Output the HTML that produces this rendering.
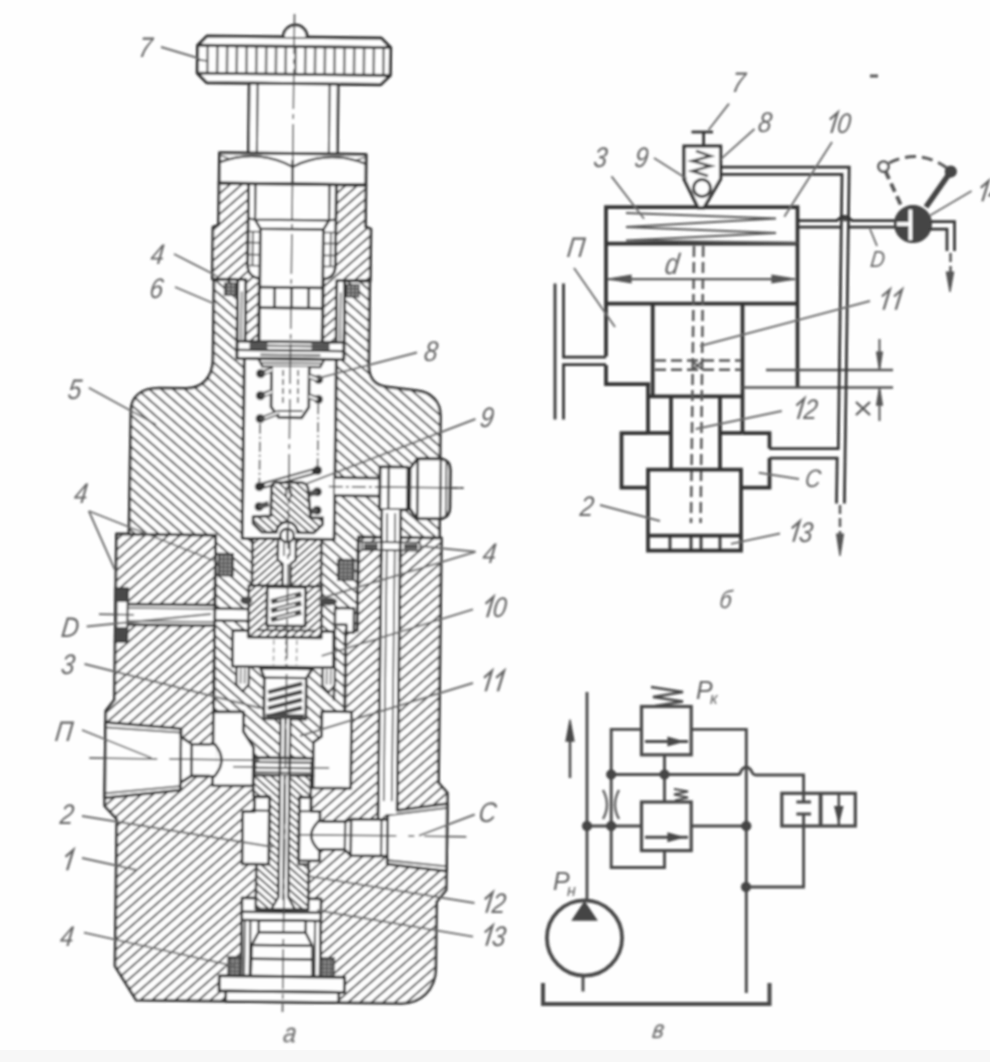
<!DOCTYPE html>
<html><head><meta charset="utf-8"><title>valve</title>
<style>
html,body{margin:0;padding:0;background:#fefefe;}
body{width:990px;height:1062px;overflow:hidden;position:relative;font-family:"Liberation Sans",sans-serif;}
svg{position:absolute;left:0;top:0;display:block}
svg text{font-family:"Liberation Sans",sans-serif;font-style:italic;}
#strip{position:absolute;left:0;top:1050px;width:990px;height:12px;background:#f7f7f7;}
</style></head><body>
<div id="strip"></div>
<svg width="990" height="1062" viewBox="0 0 990 1062">

<defs>
<filter id="bl" x="-2%" y="-2%" width="104%" height="104%"><feGaussianBlur stdDeviation="0.85"/></filter>
<pattern id="hA" width="40" height="7.7" patternUnits="userSpaceOnUse" patternTransform="rotate(-41.9)">
 <line x1="-1" y1="3.85" x2="41" y2="3.85" stroke="#4b4b4b" stroke-width="1.95"/></pattern>
<pattern id="hB" width="40" height="7.85" patternUnits="userSpaceOnUse" patternTransform="rotate(40.7)">
 <line x1="-1" y1="3.9" x2="41" y2="3.9" stroke="#4b4b4b" stroke-width="1.95"/></pattern>
<pattern id="hA2" width="40" height="5.6" patternUnits="userSpaceOnUse" patternTransform="rotate(-42)">
 <line x1="-1" y1="2.8" x2="41" y2="2.8" stroke="#4b4b4b" stroke-width="1.85"/></pattern>
<pattern id="hB2" width="40" height="5.6" patternUnits="userSpaceOnUse" patternTransform="rotate(41)">
 <line x1="-1" y1="2.8" x2="41" y2="2.8" stroke="#4b4b4b" stroke-width="1.85"/></pattern>
<pattern id="hX" width="4" height="4" patternUnits="userSpaceOnUse">
 <rect width="4" height="4" fill="#555"/><circle cx="2" cy="2" r="1.15" fill="#b5b5b5"/></pattern>
</defs>
<g filter="url(#bl)">
<g transform="rotate(0.69 288.3 530)">
<path d="M116.5,536 L116.5,702 L108,713 L108,808 L120.3,821 L120.3,968 L142,1002 L407,1002 C426,1002 441,988 441,967 L441,900 L450.5,888 L450.5,791 L441.5,781 L441.5,536 Z" fill="#fefefe" stroke="none"/>
<path d="M116.5,536 L116.5,702 L108,713 L108,808 L120.3,821 L120.3,968 L142,1002 L407,1002 C426,1002 441,988 441,967 L441,900 L450.5,888 L450.5,791 L441.5,781 L441.5,536 Z" fill="url(#hA)" stroke="#303030" stroke-width="2.75" stroke-linejoin="round"/>
<path d="M211,280 L211,360 C211,378 201,389.6 184,389.6 L158,389.8 C140,389.8 129.5,398 129.5,413 L129,536 L215.8,536 L215.8,713 L245.7,713 L245.7,732 L256.2,748 L256.2,758 L316,758 L316,742 L324.1,736 L324.1,713 L347,713 L347,630 L358.4,630 L358.4,536 L439.5,536 L439,414 C439,400 430,390.5 415.4,389.1 L385,385.6 C374,384.5 366.8,378 366.8,364 L366.8,280 Z" fill="#fefefe" stroke="none"/>
<path d="M211,280 L211,360 C211,378 201,389.6 184,389.6 L158,389.8 C140,389.8 129.5,398 129.5,413 L129,536 L215.8,536 L215.8,713 L245.7,713 L245.7,732 L256.2,748 L256.2,758 L316,758 L316,742 L324.1,736 L324.1,713 L347,713 L347,630 L358.4,630 L358.4,536 L439.5,536 L439,414 C439,400 430,390.5 415.4,389.1 L385,385.6 C374,384.5 366.8,378 366.8,364 L366.8,280 Z" fill="url(#hB)" stroke="#303030" stroke-width="2.75" stroke-linejoin="round"/>
<path d="M234.8,280 L341.8,280 L341.8,359 L234.8,359 Z" fill="#fefefe" stroke="#303030" stroke-width="2.75" stroke-linejoin="round"/>
<path d="M214.8,184 L244.5,184 L244.5,267 Q245.3,277 256.3,279 L256.3,341.7 L242.8,341.7 L242.8,280 L209.3,280 L209.3,228 L214.8,226 Z" fill="#fefefe" stroke="none"/>
<path d="M214.8,184 L244.5,184 L244.5,267 Q245.3,277 256.3,279 L256.3,341.7 L242.8,341.7 L242.8,280 L209.3,280 L209.3,228 L214.8,226 Z" fill="url(#hA)" stroke="#303030" stroke-width="2.75" stroke-linejoin="round"/>
<path d="M361.8,184 L332.1,184 L332.1,267 Q331.3,277 320.3,279 L320.3,341.7 L333.8,341.7 L333.8,280 L367.3,280 L367.3,228 L361.8,226 Z" fill="#fefefe" stroke="none"/>
<path d="M361.8,184 L332.1,184 L332.1,267 Q331.3,277 320.3,279 L320.3,341.7 L333.8,341.7 L333.8,280 L367.3,280 L367.3,228 L361.8,226 Z" fill="url(#hA)" stroke="#303030" stroke-width="2.75" stroke-linejoin="round"/>
<rect x="221.8" y="284" width="12" height="12" fill="url(#hX)" stroke="#303030" stroke-width="1.5"/>
<rect x="342.8" y="284" width="13" height="12" fill="url(#hX)" stroke="#303030" stroke-width="1.5"/>
<line x1="209.3" y1="280" x2="242.8" y2="280" stroke="#303030" stroke-width="2.75" />
<line x1="333.8" y1="280" x2="367.3" y2="280" stroke="#303030" stroke-width="2.75" />
<path d="M201.3,37 L375.3,37 L384.8,46.4 L384.8,74.3 L375.3,83.6 L201.3,83.6 L191.8,74.3 L191.8,46.4 Z" fill="#fefefe" stroke="#303030" stroke-width="3.12" stroke-linejoin="round"/>
<line x1="201.8" y1="47.5" x2="201.8" y2="73.2" stroke="#767676" stroke-width="2.62" />
<line x1="211.6" y1="47.5" x2="211.6" y2="73.2" stroke="#767676" stroke-width="2.62" />
<line x1="221.4" y1="47.5" x2="221.4" y2="73.2" stroke="#767676" stroke-width="2.62" />
<line x1="231.1" y1="47.5" x2="231.1" y2="73.2" stroke="#767676" stroke-width="2.62" />
<line x1="240.9" y1="47.5" x2="240.9" y2="73.2" stroke="#767676" stroke-width="2.62" />
<line x1="250.7" y1="47.5" x2="250.7" y2="73.2" stroke="#767676" stroke-width="2.62" />
<line x1="260.5" y1="47.5" x2="260.5" y2="73.2" stroke="#767676" stroke-width="2.62" />
<line x1="270.3" y1="47.5" x2="270.3" y2="73.2" stroke="#767676" stroke-width="2.62" />
<line x1="280.0" y1="47.5" x2="280.0" y2="73.2" stroke="#767676" stroke-width="2.62" />
<line x1="289.8" y1="47.5" x2="289.8" y2="73.2" stroke="#767676" stroke-width="2.62" />
<line x1="299.6" y1="47.5" x2="299.6" y2="73.2" stroke="#767676" stroke-width="2.62" />
<line x1="309.4" y1="47.5" x2="309.4" y2="73.2" stroke="#767676" stroke-width="2.62" />
<line x1="319.2" y1="47.5" x2="319.2" y2="73.2" stroke="#767676" stroke-width="2.62" />
<line x1="328.9" y1="47.5" x2="328.9" y2="73.2" stroke="#767676" stroke-width="2.62" />
<line x1="338.7" y1="47.5" x2="338.7" y2="73.2" stroke="#767676" stroke-width="2.62" />
<line x1="348.5" y1="47.5" x2="348.5" y2="73.2" stroke="#767676" stroke-width="2.62" />
<line x1="358.3" y1="47.5" x2="358.3" y2="73.2" stroke="#767676" stroke-width="2.62" />
<line x1="368.1" y1="47.5" x2="368.1" y2="73.2" stroke="#767676" stroke-width="2.62" />
<line x1="377.8" y1="47.5" x2="377.8" y2="73.2" stroke="#767676" stroke-width="2.62" />
<line x1="191.8" y1="46.4" x2="384.8" y2="46.4" stroke="#303030" stroke-width="2.88" />
<line x1="191.8" y1="74.3" x2="384.8" y2="74.3" stroke="#303030" stroke-width="2.88" />
<line x1="193.3" y1="61" x2="202.3" y2="62" stroke="#4a4a4a" stroke-width="1.62" />
<path d="M277.3,37 A12,12 0 0 1 301.3,37" fill="#fefefe" stroke="#303030" stroke-width="2.88" />
<path d="M243.8,83.6 L332.8,83.6 L332.8,153.5 L243.8,153.5 Z" fill="#fefefe" stroke="#303030" stroke-width="2.75" stroke-linejoin="round"/>
<line x1="252.3" y1="84" x2="252.3" y2="153.5" stroke="#303030" stroke-width="2.0" />
<line x1="324.3" y1="84" x2="324.3" y2="153.5" stroke="#303030" stroke-width="2.0" />
<path d="M215.0,153.5 L361.6,153.5 L361.6,184 L215.0,184 Z" fill="#fefefe" stroke="#303030" stroke-width="3.0" stroke-linejoin="round"/>
<path d="M215.3,163 Q248.3,150 280.3,163 L288.3,167 L296.3,163 Q328.3,150 361.3,163" fill="none" stroke="#303030" stroke-width="2.25" />
<line x1="288.3" y1="160" x2="288.3" y2="184" stroke="#303030" stroke-width="2.5" />
<path d="M215.3,156 L226.3,160 M361.3,156 L350.3,160" fill="none" stroke="#4a4a4a" stroke-width="1.5" />
<path d="M244.5,184 L332.1,184 L332.1,267 Q331.3,277 320.3,279 L320.3,341.7 L256.3,341.7 L256.3,279 Q245.3,277 244.5,267 Z" fill="#fefefe" stroke="#303030" stroke-width="0.0" stroke-linejoin="round"/>
<line x1="244.5" y1="184" x2="244.5" y2="267" stroke="#303030" stroke-width="2.75" />
<line x1="332.1" y1="184" x2="332.1" y2="267" stroke="#303030" stroke-width="2.75" />
<line x1="215.0" y1="184" x2="361.6" y2="184" stroke="#303030" stroke-width="3.25" />
<path d="M244.5,267 Q245.3,277 256.3,279 M332.1,267 Q331.3,277 320.3,279" fill="none" stroke="#303030" stroke-width="2.75" />
<line x1="251.3" y1="184" x2="251.3" y2="220" stroke="#303030" stroke-width="2.25" />
<line x1="325.3" y1="184" x2="325.3" y2="220" stroke="#303030" stroke-width="2.25" />
<path d="M245.3,219 L251.3,220 L325.3,220 L331.3,219" fill="none" stroke="#303030" stroke-width="2.25" />
<path d="M251.3,220 L256.8,229 L319.8,229 L325.3,220" fill="none" stroke="#303030" stroke-width="2.5" />
<line x1="256.8" y1="229" x2="256.8" y2="341.7" stroke="#303030" stroke-width="2.75" />
<line x1="319.8" y1="229" x2="319.8" y2="341.7" stroke="#303030" stroke-width="2.75" />
<line x1="249.3" y1="232" x2="249.3" y2="266" stroke="#4a4a4a" stroke-width="1.75" />
<line x1="256.3" y1="232" x2="245.3" y2="232" stroke="#4a4a4a" stroke-width="1.5" />
<line x1="256.3" y1="243" x2="245.3" y2="243" stroke="#4a4a4a" stroke-width="1.5" />
<line x1="256.3" y1="255" x2="245.3" y2="255" stroke="#4a4a4a" stroke-width="1.5" />
<line x1="256.3" y1="266" x2="245.3" y2="266" stroke="#4a4a4a" stroke-width="1.5" />
<line x1="327.3" y1="232" x2="327.3" y2="266" stroke="#4a4a4a" stroke-width="1.75" />
<line x1="320.3" y1="232" x2="331.3" y2="232" stroke="#4a4a4a" stroke-width="1.5" />
<line x1="320.3" y1="243" x2="331.3" y2="243" stroke="#4a4a4a" stroke-width="1.5" />
<line x1="320.3" y1="255" x2="331.3" y2="255" stroke="#4a4a4a" stroke-width="1.5" />
<line x1="320.3" y1="266" x2="331.3" y2="266" stroke="#4a4a4a" stroke-width="1.5" />
<line x1="256.8" y1="287.6" x2="319.8" y2="287.6" stroke="#303030" stroke-width="2.75" />
<line x1="256.8" y1="308" x2="319.8" y2="308" stroke="#303030" stroke-width="2.75" />
<line x1="271.8" y1="287.6" x2="271.8" y2="308" stroke="#303030" stroke-width="2.5" />
<line x1="288.8" y1="287.6" x2="288.8" y2="308" stroke="#303030" stroke-width="2.5" />
<line x1="305.8" y1="287.6" x2="305.8" y2="308" stroke="#303030" stroke-width="2.5" />
<line x1="242.8" y1="280" x2="242.8" y2="341.7" stroke="#303030" stroke-width="2.25" />
<line x1="234.8" y1="280" x2="234.8" y2="359" stroke="#303030" stroke-width="2.5" />
<line x1="238.8" y1="292" x2="238.8" y2="340" stroke="#4a4a4a" stroke-width="1.5" />
<line x1="333.8" y1="280" x2="333.8" y2="341.7" stroke="#303030" stroke-width="2.25" />
<line x1="341.8" y1="280" x2="341.8" y2="359" stroke="#303030" stroke-width="2.5" />
<line x1="337.8" y1="292" x2="337.8" y2="340" stroke="#4a4a4a" stroke-width="1.5" />
<line x1="234.8" y1="341.7" x2="341.8" y2="341.7" stroke="#303030" stroke-width="2.75" />
<line x1="234.8" y1="350.6" x2="341.8" y2="350.6" stroke="#303030" stroke-width="2.25" />
<line x1="242.3" y1="359" x2="334.3" y2="359" stroke="#303030" stroke-width="2.75" />
<rect x="247.3" y="343" width="18" height="6.5" fill="#555"/>
<rect x="309.3" y="343" width="18" height="6.5" fill="#555"/>
<line x1="265.3" y1="346" x2="309.3" y2="346" stroke="#303030" stroke-width="1.75" />
<line x1="258.3" y1="355" x2="318.3" y2="355" stroke="#303030" stroke-width="1.62" />
<path d="M242.3,359 L334.3,359 L334.3,539 L242.3,539 Z" fill="#fefefe" stroke="#303030" stroke-width="3.0" stroke-linejoin="round"/>
<path d="M256.3,359 L260.3,366.7 L318.3,366.7 L322.3,359" fill="none" stroke="#303030" stroke-width="2.25" />
<line x1="259.3" y1="363" x2="319.3" y2="363" stroke="#303030" stroke-width="1.5" />
<path d="M269.6,366.7 L269.6,407 L277.3,417.6 L300.3,417.6 L307.3,407 L307.3,366.7" fill="#fefefe" stroke="#303030" stroke-width="2.75" />
<line x1="276.3" y1="411" x2="301.3" y2="411" stroke="#303030" stroke-width="1.75" />
<line x1="281.3" y1="370" x2="281.3" y2="405" stroke="#4a4a4a" stroke-width="1.5" stroke-dasharray="6 3"/>
<line x1="296.3" y1="370" x2="296.3" y2="405" stroke="#4a4a4a" stroke-width="1.5" stroke-dasharray="6 3"/>
<circle cx="258.8" cy="374" r="4.1" fill="#333" stroke="#303030" stroke-width="0.62"/>
<circle cx="258.8" cy="396" r="4.1" fill="#333" stroke="#303030" stroke-width="0.62"/>
<circle cx="258.8" cy="419" r="4.1" fill="#333" stroke="#303030" stroke-width="0.62"/>
<circle cx="316.8" cy="379" r="4.1" fill="#333" stroke="#303030" stroke-width="0.62"/>
<circle cx="316.8" cy="399" r="4.1" fill="#333" stroke="#303030" stroke-width="0.62"/>
<line x1="258.8" y1="374" x2="270.3" y2="370" stroke="#484848" stroke-width="5.25" />
<line x1="263.3" y1="373.0" x2="270.3" y2="370" stroke="#fefefe" stroke-width="2.0" />
<line x1="258.8" y1="396" x2="270.3" y2="392" stroke="#484848" stroke-width="5.25" />
<line x1="263.3" y1="395.0" x2="270.3" y2="392" stroke="#fefefe" stroke-width="2.0" />
<line x1="258.8" y1="420" x2="277.3" y2="412.5" stroke="#484848" stroke-width="5.25" />
<line x1="263.3" y1="418.125" x2="277.3" y2="412.5" stroke="#fefefe" stroke-width="2.0" />
<line x1="316.8" y1="379" x2="307.3" y2="376" stroke="#555" stroke-width="5.62" />
<line x1="315.3" y1="379" x2="307.3" y2="376" stroke="#fefefe" stroke-width="2.25" />
<line x1="316.8" y1="399" x2="307.3" y2="396" stroke="#555" stroke-width="5.62" />
<line x1="315.3" y1="399" x2="307.3" y2="396" stroke="#fefefe" stroke-width="2.25" />
<line x1="258.8" y1="424" x2="258.8" y2="482" stroke="#4a4a4a" stroke-width="1.62" stroke-dasharray="10 3 2 3"/>
<line x1="316.8" y1="404" x2="316.8" y2="466" stroke="#4a4a4a" stroke-width="1.62" stroke-dasharray="10 3 2 3"/>
<line x1="258.8" y1="487" x2="316.8" y2="470" stroke="#404040" stroke-width="6.5" />
<line x1="264.3" y1="485.4" x2="311.3" y2="471.6" stroke="#fefefe" stroke-width="2.5" />
<circle cx="258.8" cy="487" r="4.1" fill="#333" stroke="#303030" stroke-width="0.62"/>
<circle cx="258.8" cy="507" r="4.1" fill="#333" stroke="#303030" stroke-width="0.62"/>
<circle cx="316.8" cy="470" r="4.1" fill="#333" stroke="#303030" stroke-width="0.62"/>
<circle cx="316.8" cy="491.5" r="4.1" fill="#333" stroke="#303030" stroke-width="0.62"/>
<circle cx="316.8" cy="510" r="4.1" fill="#333" stroke="#303030" stroke-width="0.62"/>
<line x1="258.8" y1="507" x2="268.3" y2="504" stroke="#555" stroke-width="5.62" />
<line x1="316.8" y1="491.5" x2="308.3" y2="494" stroke="#555" stroke-width="5.62" />
<line x1="316.8" y1="510" x2="308.3" y2="512" stroke="#555" stroke-width="5.62" />
<path d="M271,488 Q271,482.5 277,482.5 L301,482.5 Q306.5,483 307.5,488 L310.5,517.5 L322.5,517.5 L322.5,524 L314,532.5 L297.5,532.5 A10.5,10.5 0 0 0 276.5,532.5 L262,532.5 L253,524 L253,517 L270.6,516 Z" fill="#fefefe" stroke="none"/>
<path d="M271,488 Q271,482.5 277,482.5 L301,482.5 Q306.5,483 307.5,488 L310.5,517.5 L322.5,517.5 L322.5,524 L314,532.5 L297.5,532.5 A10.5,10.5 0 0 0 276.5,532.5 L262,532.5 L253,524 L253,517 L270.6,516 Z" fill="url(#hB2)" stroke="#303030" stroke-width="2.75" stroke-linejoin="round"/>
<path d="M288,485.5 Q293.5,494 288,500.5 Q282.5,494 288,485.5 Z" fill="#fefefe" stroke="#303030" stroke-width="1.75" />
<path d="M334.3,477 L381,477 L381,495 L334.3,495 Z" fill="#fefefe" stroke="#303030" stroke-width="0.0" stroke-linejoin="round"/>
<line x1="334.3" y1="477" x2="381" y2="477" stroke="#303030" stroke-width="2.75" />
<line x1="334.3" y1="495" x2="381" y2="495" stroke="#303030" stroke-width="2.75" />
<line x1="328.3" y1="486" x2="463" y2="486" stroke="#4a4a4a" stroke-width="1.5" stroke-dasharray="14 3 3 3"/>
<path d="M379.3,465.7 L407.3,465.7 L407.3,508.4 L379.3,508.4 Z" fill="#fefefe" stroke="#303030" stroke-width="3.0" stroke-linejoin="round"/>
<line x1="388" y1="465.7" x2="388" y2="508.4" stroke="#303030" stroke-width="2.25" />
<path d="M409.3,467 L416.5,457 L441,457 Q449.5,459 449.5,468 L449.5,506 Q449.5,514.5 441,517 L416.5,517 L409.3,507 Z" fill="#fefefe" stroke="#303030" stroke-width="3.0" stroke-linejoin="round"/>
<line x1="407.3" y1="470" x2="409.3" y2="466" stroke="#303030" stroke-width="2.5" />
<line x1="407.3" y1="504" x2="409.3" y2="508" stroke="#303030" stroke-width="2.5" />
<line x1="417" y1="458" x2="417" y2="516" stroke="#303030" stroke-width="2.5" />
<line x1="440" y1="457" x2="440" y2="517" stroke="#303030" stroke-width="2.25" />
<line x1="445.5" y1="460" x2="445.5" y2="514" stroke="#303030" stroke-width="1.62" />
<line x1="379.3" y1="486" x2="463" y2="486" stroke="#4a4a4a" stroke-width="1.5" />
<path d="M381.5,508.4 L400.5,508.4 L400.5,811 L381.5,811 Z" fill="#fefefe" stroke="#303030" stroke-width="0.0" stroke-linejoin="round"/>
<line x1="381.5" y1="508.4" x2="381.5" y2="811" stroke="#303030" stroke-width="2.75" />
<line x1="400.5" y1="508.4" x2="400.5" y2="811" stroke="#303030" stroke-width="2.75" />
<line x1="387" y1="512" x2="387" y2="808" stroke="#4a4a4a" stroke-width="1.62" />
<line x1="395" y1="512" x2="395" y2="808" stroke="#4a4a4a" stroke-width="1.62" />
<rect x="362" y="541" width="58" height="8" fill="#fefefe" stroke="#303030" stroke-width="1.6"/>
<rect x="364" y="542.5" width="14" height="5.5" fill="#555"/>
<rect x="404" y="542.5" width="14" height="5.5" fill="#555"/>
<line x1="381.5" y1="536" x2="381.5" y2="560" stroke="#303030" stroke-width="2.75" />
<line x1="400.5" y1="536" x2="400.5" y2="560" stroke="#303030" stroke-width="2.75" />
<path d="M252.60000000000002,539 L321.6,539 L321.6,586 L252.60000000000002,586 Z" fill="#fefefe" stroke="none"/>
<path d="M252.60000000000002,539 L321.6,539 L321.6,586 L252.60000000000002,586 Z" fill="url(#hA2)" stroke="#303030" stroke-width="2.5" stroke-linejoin="round"/>
<path d="M278.1,539 L296.1,539 L296.1,560 L291.1,564 L291.1,586 L283.1,586 L283.1,564 L278.1,560 Z" fill="#fefefe" stroke="#303030" stroke-width="2.5" stroke-linejoin="round"/>
<circle cx="287.1" cy="535.5" r="6.8" fill="#fefefe" stroke="#303030" stroke-width="2.5"/>
<line x1="287.1" y1="530" x2="287.1" y2="541" stroke="#4a4a4a" stroke-width="1.5" />
<line x1="284.1" y1="543" x2="284.1" y2="556" stroke="#4a4a4a" stroke-width="1.5" />
<line x1="290.1" y1="543" x2="290.1" y2="556" stroke="#4a4a4a" stroke-width="1.5" />
<rect x="219" y="554.4" width="14.5" height="22" fill="url(#hX)" stroke="#303030" stroke-width="1.6"/>
<rect x="338.4" y="559" width="16" height="20.5" fill="url(#hX)" stroke="#303030" stroke-width="1.6"/>
<path d="M116.5,606 L215.8,606 L215.8,609.5 L249.5,609.5 L249.5,621.5 L215.8,621.5 L215.8,626.5 L116.5,626.5 Z" fill="#fefefe" stroke="#303030" stroke-width="0.0" stroke-linejoin="round"/>
<line x1="128" y1="606" x2="215.8" y2="606" stroke="#303030" stroke-width="2.75" />
<line x1="128" y1="626.5" x2="215.8" y2="626.5" stroke="#303030" stroke-width="2.75" />
<line x1="215.8" y1="609.5" x2="249.5" y2="609.5" stroke="#303030" stroke-width="2.5" />
<line x1="215.8" y1="621.5" x2="249.5" y2="621.5" stroke="#303030" stroke-width="2.5" />
<line x1="128" y1="610" x2="215.8" y2="610" stroke="#4a4a4a" stroke-width="1.5" />
<line x1="128" y1="623" x2="215.8" y2="623" stroke="#4a4a4a" stroke-width="1.5" />
<line x1="215.8" y1="536" x2="215.8" y2="713" stroke="#303030" stroke-width="2.75" />
<rect x="116" y="590" width="12.8" height="54" fill="#4a4a4a" stroke="#303030" stroke-width="1.5"/>
<rect x="118.5" y="604" width="9" height="25" fill="#fefefe"/>
<line x1="100" y1="616.5" x2="135" y2="616.5" stroke="#4a4a4a" stroke-width="1.5" />
<path d="M336,607.5 L355,607.5 L355,632 L347.5,632 L347.5,624 L336,624 Z" fill="#fefefe" stroke="#303030" stroke-width="2.5" stroke-linejoin="round"/>
<path d="M249.5,586 L322.5,586 L322.5,637.5 L249.5,637.5 Z" fill="#fefefe" stroke="none"/>
<path d="M249.5,586 L322.5,586 L322.5,637.5 L249.5,637.5 Z" fill="url(#hA2)" stroke="#303030" stroke-width="2.5" stroke-linejoin="round"/>
<path d="M267.90000000000003,587 L306.3,587 L306.3,626 L267.90000000000003,626 Z" fill="#fefefe" stroke="#303030" stroke-width="2.75" stroke-linejoin="round"/>
<line x1="257.1" y1="630.5" x2="317.1" y2="630.5" stroke="#303030" stroke-width="2.0" />
<line x1="272.1" y1="602" x2="302.1" y2="594" stroke="#4a4a4a" stroke-width="5.25" />
<line x1="278.1" y1="600.4" x2="296.1" y2="595.6" stroke="#fefefe" stroke-width="1.75" />
<line x1="272.1" y1="611" x2="302.1" y2="603" stroke="#4a4a4a" stroke-width="5.25" />
<line x1="278.1" y1="609.4" x2="296.1" y2="604.6" stroke="#fefefe" stroke-width="1.75" />
<line x1="272.1" y1="620" x2="302.1" y2="612" stroke="#4a4a4a" stroke-width="5.25" />
<line x1="278.1" y1="618.4" x2="296.1" y2="613.6" stroke="#fefefe" stroke-width="1.75" />
<ellipse cx="247.10000000000002" cy="601" rx="6" ry="4" fill="#4a4a4a"/>
<ellipse cx="329.1" cy="601" rx="9" ry="4" fill="#4a4a4a"/>
<path d="M234,631 L249.5,631 L249.5,637.5 L322.5,637.5 L322.5,631 L335,631 L335,667 L234,667 Z" fill="#fefefe" stroke="#303030" stroke-width="2.75" stroke-linejoin="round"/>
<line x1="275.1" y1="640" x2="275.1" y2="665" stroke="#999" stroke-width="1.5" stroke-dasharray="5 3"/>
<line x1="287.1" y1="640" x2="287.1" y2="665" stroke="#999" stroke-width="1.5" stroke-dasharray="5 3"/>
<line x1="298.1" y1="640" x2="298.1" y2="665" stroke="#999" stroke-width="1.5" stroke-dasharray="5 3"/>
<line x1="336" y1="626" x2="336" y2="700" stroke="#303030" stroke-width="2.5" />
<line x1="347" y1="630" x2="347" y2="713" stroke="#303030" stroke-width="2.5" />
<line x1="358.4" y1="536" x2="358.4" y2="630" stroke="#303030" stroke-width="2.75" />
<path d="M238.20000000000002,667 L250.6,667 L250.6,685 L244.4,692 L238.20000000000002,685 Z" fill="#fefefe" stroke="#303030" stroke-width="2.25" stroke-linejoin="round"/>
<line x1="242.4" y1="669" x2="242.4" y2="684" stroke="#4a4a4a" stroke-width="1.38" />
<line x1="246.4" y1="669" x2="246.4" y2="684" stroke="#4a4a4a" stroke-width="1.38" />
<path d="M324.2,667 L336.59999999999997,667 L336.59999999999997,685 L330.4,692 L324.2,685 Z" fill="#fefefe" stroke="#303030" stroke-width="2.25" stroke-linejoin="round"/>
<line x1="328.4" y1="669" x2="328.4" y2="684" stroke="#4a4a4a" stroke-width="1.38" />
<line x1="332.4" y1="669" x2="332.4" y2="684" stroke="#4a4a4a" stroke-width="1.38" />
<path d="M262.1,668.5 L314.1,668.5 L308.1,678 L308.1,719 L266.1,719 L266.1,678 Z" fill="#fefefe" stroke="#303030" stroke-width="2.75" stroke-linejoin="round"/>
<line x1="266.1" y1="678" x2="308.1" y2="678" stroke="#303030" stroke-width="2.25" />
<line x1="270.1" y1="692.5" x2="304.1" y2="683.5" stroke="#4a4a4a" stroke-width="4.25" />
<line x1="270.1" y1="700.5" x2="304.1" y2="691.5" stroke="#4a4a4a" stroke-width="4.25" />
<line x1="270.1" y1="708.5" x2="304.1" y2="699.5" stroke="#4a4a4a" stroke-width="4.25" />
<line x1="270.1" y1="716.5" x2="304.1" y2="707.5" stroke="#4a4a4a" stroke-width="4.25" />
<line x1="268.1" y1="716" x2="306.1" y2="716" stroke="#4a4a4a" stroke-width="3.75" />
<path d="M282.8,719 L292.6,719 L292.6,758 L282.8,758 Z" fill="#fefefe" stroke="#303030" stroke-width="0.0" stroke-linejoin="round"/>
<line x1="282.8" y1="719" x2="282.8" y2="758" stroke="#303030" stroke-width="2.25" />
<line x1="292.6" y1="719" x2="292.6" y2="758" stroke="#303030" stroke-width="2.25" />
<line x1="287.70000000000005" y1="719" x2="287.70000000000005" y2="758" stroke="#8a8a8a" stroke-width="2.75" />
<path d="M215.6,712.4 L245.7,712.4 L245.7,732 L256.2,748 L256.2,786.4 L215.6,786.4 Z" fill="#fefefe" stroke="#303030" stroke-width="2.75" stroke-linejoin="round"/>
<path d="M353.8,711 L324.1,711 L324.1,736 L316,742 L316,787.5 L353.8,787.5 Z" fill="#fefefe" stroke="#303030" stroke-width="2.75" stroke-linejoin="round"/>
<path d="M256.2,758 L316,758 Q313,766.5 316,775.4 L256.2,775.4 Q259.5,766.5 256.2,758 Z" fill="#fefefe" stroke="#303030" stroke-width="2.75" stroke-linejoin="round"/>
<line x1="258" y1="762.5" x2="314" y2="762.5" stroke="#303030" stroke-width="1.88" />
<line x1="258.5" y1="768" x2="313.5" y2="768" stroke="#303030" stroke-width="1.88" />
<line x1="258" y1="772.5" x2="314" y2="772.5" stroke="#303030" stroke-width="1.5" />
<line x1="236" y1="767.5" x2="258" y2="767.5" stroke="#4a4a4a" stroke-width="1.5" />
<line x1="314" y1="767.5" x2="332" y2="767.5" stroke="#4a4a4a" stroke-width="1.5" />
<line x1="282.8" y1="758" x2="282.8" y2="775" stroke="#303030" stroke-width="2.25" />
<line x1="292.6" y1="758" x2="292.6" y2="775" stroke="#303030" stroke-width="2.25" />
<path d="M108,724.6 L183.4,729.8 L183.4,738 L194.3,745.2 L217.5,745.2 L217.5,777 L194.3,777 L183.4,784 L183.4,791.3 L108,800 Z" fill="#fefefe" stroke="#303030" stroke-width="2.75" stroke-linejoin="round"/>
<line x1="108" y1="729.5" x2="183.4" y2="733.8" stroke="#4a4a4a" stroke-width="1.75" />
<line x1="108" y1="795.5" x2="183.4" y2="787.3" stroke="#4a4a4a" stroke-width="1.75" />
<line x1="183.4" y1="729.8" x2="183.4" y2="791.3" stroke="#303030" stroke-width="2.5" />
<line x1="194.3" y1="745.2" x2="194.3" y2="777" stroke="#303030" stroke-width="2.5" />
<path d="M213,746.3 L219,746.3 L219,775.9 L213,775.9 Z" fill="#fefefe" stroke="#303030" stroke-width="0.0" stroke-linejoin="round"/>
<path d="M217.5,745.2 Q231,761 217.5,777" fill="none" stroke="#303030" stroke-width="2.5" />
<line x1="92" y1="760.5" x2="160" y2="760.5" stroke="#4a4a4a" stroke-width="1.5" />
<line x1="172" y1="760.5" x2="262" y2="760.5" stroke="#4a4a4a" stroke-width="1.5" />
<path d="M246.4,898.5 L325.5,898.5 L325.5,977 L246.4,977 Z" fill="#fefefe" stroke="#303030" stroke-width="2.75" stroke-linejoin="round"/>
<path d="M256.6,775.4 L314,775.4 L314,797 L302.7,797 L302.7,864 L312.8,864 L312.8,909.5 L260.3,909.5 L260.3,864 L272.7,864 L272.7,797 L256.6,797 Z" fill="#fefefe" stroke="none"/>
<path d="M256.6,775.4 L314,775.4 L314,797 L302.7,797 L302.7,864 L312.8,864 L312.8,909.5 L260.3,909.5 L260.3,864 L272.7,864 L272.7,797 L256.6,797 Z" fill="url(#hB2)" stroke="#303030" stroke-width="2.5" stroke-linejoin="round"/>
<path d="M282.9,775.4 L292.5,775.4 L292.5,905 L282.9,905 Z" fill="#fefefe" stroke="#303030" stroke-width="0.0" stroke-linejoin="round"/>
<line x1="282.9" y1="775.4" x2="282.9" y2="905" stroke="#303030" stroke-width="2.25" />
<line x1="292.5" y1="775.4" x2="292.5" y2="905" stroke="#303030" stroke-width="2.25" />
<line x1="287.7" y1="775.4" x2="287.7" y2="905" stroke="#8a8a8a" stroke-width="3.0" />
<path d="M257.7,797 L272.7,797 L272.7,864.5 L246.1,864.5 L246.1,812 L257.7,812 Z" fill="#fefefe" stroke="#303030" stroke-width="2.75" stroke-linejoin="round"/>
<path d="M302.7,797 L314.3,797 L314.3,811 L323.4,811 L323.4,860.6 L302.7,860.6 Z" fill="#fefefe" stroke="#303030" stroke-width="2.75" stroke-linejoin="round"/>
<line x1="257.7" y1="811" x2="272.7" y2="811" stroke="#303030" stroke-width="2.0" />
<line x1="302.7" y1="811" x2="314.3" y2="811" stroke="#303030" stroke-width="2.0" />
<line x1="258" y1="797" x2="258" y2="812" stroke="#303030" stroke-width="2.5" />
<line x1="314.3" y1="797" x2="314.3" y2="811" stroke="#303030" stroke-width="2.5" />
<path d="M450.5,801.7 L391.2,810.5 L391.2,818.4 L354.6,818.4 L348.7,821 L322,821 L322,849 L348.7,849 L354.6,854.8 L391.2,854.8 L391.2,862.8 L450.5,869.3 Z" fill="#fefefe" stroke="#303030" stroke-width="2.75" stroke-linejoin="round"/>
<line x1="450.5" y1="806" x2="391.2" y2="814" stroke="#4a4a4a" stroke-width="1.88" />
<line x1="450.5" y1="864.5" x2="391.2" y2="859" stroke="#4a4a4a" stroke-width="1.88" />
<line x1="391.2" y1="810.5" x2="391.2" y2="862.8" stroke="#303030" stroke-width="2.5" />
<line x1="385" y1="818.4" x2="385" y2="854.8" stroke="#303030" stroke-width="2.0" />
<line x1="354.6" y1="818.4" x2="354.6" y2="854.8" stroke="#303030" stroke-width="2.5" />
<line x1="348.7" y1="821" x2="348.7" y2="849" stroke="#303030" stroke-width="2.25" />
<path d="M318,822.2 L325,822.2 L325,847.8 L318,847.8 Z" fill="#fefefe" stroke="#303030" stroke-width="0.0" stroke-linejoin="round"/>
<path d="M322,821 Q308,835 322,849" fill="none" stroke="#303030" stroke-width="2.5" />
<line x1="303" y1="834.5" x2="400" y2="834.5" stroke="#4a4a4a" stroke-width="1.5" />
<line x1="412" y1="834.5" x2="418" y2="834.5" stroke="#4a4a4a" stroke-width="1.5" />
<line x1="428" y1="834.5" x2="470" y2="834.5" stroke="#4a4a4a" stroke-width="1.5" />
<path d="M382.6,800 L399.4,800 L399.4,813 L382.6,813 Z" fill="#fefefe" stroke="#303030" stroke-width="0.0" stroke-linejoin="round"/>
<line x1="381.5" y1="800" x2="381.5" y2="818" stroke="#303030" stroke-width="2.75" />
<line x1="400.5" y1="800" x2="400.5" y2="809.5" stroke="#303030" stroke-width="2.75" />
<path d="M282.9,878 L292.5,878 L292.5,897 L299.7,909.5 L275.7,909.5 L282.9,897 Z" fill="#fefefe" stroke="#303030" stroke-width="0.0" stroke-linejoin="round"/>
<path d="M282.9,878 L282.9,897 L275.7,909.5 M292.5,878 L292.5,897 L299.7,909.5" fill="none" stroke="#303030" stroke-width="2.25" />
<line x1="287.7" y1="878" x2="287.7" y2="900" stroke="#8a8a8a" stroke-width="3.0" />
<line x1="260.3" y1="909.5" x2="312.8" y2="909.5" stroke="#303030" stroke-width="2.75" />
<line x1="246.4" y1="912.3" x2="325.5" y2="912.3" stroke="#303030" stroke-width="2.5" />
<line x1="246.4" y1="920.5" x2="325.5" y2="920.5" stroke="#303030" stroke-width="2.5" />
<line x1="249.5" y1="920.5" x2="249.5" y2="977" stroke="#303030" stroke-width="1.75" />
<line x1="255.1" y1="920.5" x2="255.1" y2="977" stroke="#303030" stroke-width="2.0" />
<line x1="319.8" y1="920.5" x2="319.8" y2="977" stroke="#303030" stroke-width="2.0" />
<line x1="325.4" y1="920.5" x2="325.4" y2="977" stroke="#303030" stroke-width="1.75" />
<path d="M263.5,920.5 L310.5,920.5 L310.5,932.5 L317.3,945.5 L318.0,977 L256.0,977 L256.7,945.5 L263.5,932.5 Z" fill="#fefefe" stroke="#303030" stroke-width="2.5" stroke-linejoin="round"/>
<line x1="263.5" y1="932.5" x2="310.5" y2="932.5" stroke="#303030" stroke-width="2.5" />
<line x1="256.7" y1="945.5" x2="317.3" y2="945.5" stroke="#303030" stroke-width="2.5" />
<line x1="256.5" y1="959.2" x2="317.5" y2="959.2" stroke="#303030" stroke-width="2.5" />
<rect x="233.5" y="957.5" width="13" height="19" fill="url(#hX)" stroke="#303030" stroke-width="1.8"/>
<rect x="325.5" y="957.5" width="13.5" height="19" fill="url(#hX)" stroke="#303030" stroke-width="1.8"/>
<path d="M224.7,976.5 L350,976.5 L350,991.8 L224.7,991.8 Z" fill="#fefefe" stroke="#303030" stroke-width="3.0" stroke-linejoin="round"/>
<path d="M231.3,991.8 L344.4,991.8 L344.4,1002 L231.3,1002 Z" fill="#fefefe" stroke="#303030" stroke-width="2.75" stroke-linejoin="round"/>
<line x1="288.3" y1="14" x2="288.3" y2="1012" stroke="#4a4a4a" stroke-width="1.5" stroke-dasharray="40 5 5 5"/>
</g>
<g>
<path d="M606,356.5 L606,207 L797.5,207 L797.5,387" fill="none" stroke="#303030" stroke-width="3.75" />
<line x1="606" y1="243.6" x2="797.5" y2="243.6" stroke="#303030" stroke-width="3.75" />
<line x1="606" y1="303.5" x2="797.5" y2="303.5" stroke="#303030" stroke-width="3.75" />
<path d="M626,213 L776,218.5 L626,227 L776,233 L626,240.5 L797,243" fill="none" stroke="#555" stroke-width="2.12" />
<line x1="608" y1="279" x2="795" y2="279" stroke="#555" stroke-width="2.25" />
<path d="M608,279 L631,275.3 L631,282.7 Z" fill="#555" stroke="#555" stroke-width="1.25" />
<path d="M795,279 L772,275.3 L772,282.7 Z" fill="#555" stroke="#555" stroke-width="1.25" />
<path d="M606,365 L606,384 L650,384" fill="none" stroke="#303030" stroke-width="3.75" />
<line x1="652.7" y1="303.5" x2="652.7" y2="396.4" stroke="#303030" stroke-width="3.75" />
<line x1="742.5" y1="303.5" x2="742.5" y2="433" stroke="#303030" stroke-width="3.75" />
<line x1="648" y1="384" x2="648" y2="433" stroke="#303030" stroke-width="3.75" />
<line x1="648" y1="396.4" x2="743.6" y2="396.4" stroke="#303030" stroke-width="3.75" />
<line x1="694" y1="246" x2="691" y2="523" stroke="#555" stroke-width="2.5" stroke-dasharray="11 5"/>
<line x1="703.2" y1="246" x2="700.6" y2="523" stroke="#555" stroke-width="2.5" stroke-dasharray="11 5"/>
<line x1="655" y1="360.5" x2="741" y2="360.5" stroke="#555" stroke-width="2.5" stroke-dasharray="11 5"/>
<line x1="655" y1="369.7" x2="741" y2="369.7" stroke="#555" stroke-width="2.5" stroke-dasharray="11 5"/>
<path d="M692,361 L703,370 M703,361 L692,370" fill="none" stroke="#555" stroke-width="2.0" />
<path d="M555,283.5 L555,419.5" fill="none" stroke="#303030" stroke-width="2.75" />
<path d="M563.5,283.5 L563.5,357 L606,357" fill="none" stroke="#303030" stroke-width="2.75" />
<path d="M563.5,419.5 L563.5,364.5 L606,364.5" fill="none" stroke="#303030" stroke-width="2.75" />
<line x1="671" y1="396.4" x2="671" y2="469.5" stroke="#303030" stroke-width="3.75" />
<line x1="720" y1="396.4" x2="720" y2="469.5" stroke="#303030" stroke-width="3.75" />
<path d="M648,433 L621.5,433 L621.5,487.5 L648,487.5" fill="none" stroke="#303030" stroke-width="3.75" />
<path d="M742.5,433 L769.5,433 L769.5,448.5 M769.5,458 L769.5,487.5 L742,487.5" fill="none" stroke="#303030" stroke-width="3.75" />
<line x1="648" y1="433" x2="671" y2="433" stroke="#303030" stroke-width="3.75" />
<line x1="720" y1="433" x2="742.5" y2="433" stroke="#303030" stroke-width="3.75" />
<path d="M648,469.5 L741,469.5 L741,550.5 L648,550.5 Z" fill="none" stroke="#303030" stroke-width="3.75" />
<line x1="648" y1="535.7" x2="741" y2="535.7" stroke="#303030" stroke-width="3.75" />
<line x1="670" y1="535.7" x2="670" y2="550.5" stroke="#303030" stroke-width="2.75" />
<line x1="691" y1="535.7" x2="691" y2="550.5" stroke="#303030" stroke-width="2.75" />
<line x1="701" y1="535.7" x2="701" y2="550.5" stroke="#303030" stroke-width="2.75" />
<line x1="720" y1="535.7" x2="720" y2="550.5" stroke="#303030" stroke-width="2.75" />
<line x1="766" y1="370" x2="893" y2="370" stroke="#555" stroke-width="2.5" />
<line x1="742.5" y1="387.4" x2="893" y2="387.4" stroke="#555" stroke-width="2.5" />
<line x1="879.5" y1="339" x2="879.5" y2="368" stroke="#555" stroke-width="2.0" />
<path d="M879.5,370 L876.6,352 L882.4,352 Z" fill="#555" stroke="#555" stroke-width="1.25" />
<line x1="879.5" y1="390" x2="879.5" y2="421" stroke="#555" stroke-width="2.0" />
<path d="M879.5,387.4 L876.6,405 L882.4,405 Z" fill="#555" stroke="#555" stroke-width="1.25" />
<path d="M856,402 L870,415 M870,402 L856,415" fill="none" stroke="#555" stroke-width="2.25" />
<path d="M720.6,167 L849.2,167 L844.4,503.5" fill="none" stroke="#303030" stroke-width="2.75" />
<path d="M720.6,174.4 L842,174.4 L838.3,448.5 L769.5,448.5" fill="none" stroke="#303030" stroke-width="2.75" />
<path d="M769.5,458 L837.2,458 L836.5,503.5" fill="none" stroke="#303030" stroke-width="2.75" />
<path d="M797.5,220.5 L837,220.5 Q844.5,212 852,220.5 L896,220.5" fill="none" stroke="#303030" stroke-width="2.75" />
<path d="M797.5,227 L841,227 M848.5,227 L896,227" fill="none" stroke="#303030" stroke-width="2.75" />
<circle cx="845" cy="219" r="2.2" fill="#444" stroke="#444" stroke-width="0.62"/>
<line x1="840" y1="505" x2="840" y2="535" stroke="#555" stroke-width="2.5" stroke-dasharray="9 4"/>
<path d="M840,556 L836.6,534 L843.4,534 Z" fill="#555" stroke="#555" stroke-width="1.25" />
<line x1="691.5" y1="132" x2="713" y2="132" stroke="#303030" stroke-width="2.75" />
<line x1="703.6" y1="132" x2="703.6" y2="150" stroke="#303030" stroke-width="2.75" />
<path d="M684,179 L684,146 L720.6,146 L720.6,179 L704,207.5 L698,207.5 Z" fill="#fefefe" stroke="#303030" stroke-width="3.25" />
<path d="M696,151 L711,156 L692,161 L711,166 L692,171 L708,176" fill="none" stroke="#444" stroke-width="2.5" />
<circle cx="702" cy="188" r="8.5" fill="#fefefe" stroke="#303030" stroke-width="3.0"/>
<circle cx="913" cy="224" r="18.4" fill="#444" stroke="#444" stroke-width="1.25"/>
<line x1="910.4" y1="209.5" x2="910.4" y2="240" stroke="#fefefe" stroke-width="3.75" />
<line x1="897" y1="224" x2="910" y2="224" stroke="#fefefe" stroke-width="3.75" />
<line x1="926" y1="207" x2="950.8" y2="171.5" stroke="#444" stroke-width="5.62" />
<circle cx="950.8" cy="171.5" r="5.5" fill="#444" stroke="#444" stroke-width="1.25"/>
<line x1="900.6" y1="204.5" x2="884.5" y2="169" stroke="#555" stroke-width="3.75" stroke-dasharray="9 5"/>
<circle cx="883.5" cy="166.5" r="5" fill="#fefefe" stroke="#555" stroke-width="2.75"/>
<path d="M889,163 Q919,148 947,168" fill="none" stroke="#555" stroke-width="3.0" stroke-dasharray="11 6"/>
<path d="M931,221.6 L954.5,221.6 L954.5,251" fill="none" stroke="#303030" stroke-width="2.75" />
<path d="M930,229 L947,229 L947,251" fill="none" stroke="#303030" stroke-width="2.75" />
<line x1="950.5" y1="253" x2="950.5" y2="274" stroke="#555" stroke-width="2.5" stroke-dasharray="9 4"/>
<path d="M950,292 L946.4,272 L953.6,272 Z" fill="#555" stroke="#555" stroke-width="1.25" />
<rect x="870" y="74.5" width="8" height="3" fill="#555"/>
</g>
<g>
<line x1="587" y1="692" x2="587" y2="901" stroke="#474747" stroke-width="2.88" />
<line x1="570" y1="740" x2="570" y2="778" stroke="#474747" stroke-width="2.5" />
<path d="M570,719.5 L566,741 L574,741 Z" fill="#474747" stroke="#474747" stroke-width="1.25" />
<rect x="641.5" y="706.5" width="49.7" height="48.3" fill="none" stroke="#474747" stroke-width="3.2"/>
<line x1="645" y1="741.5" x2="688" y2="741.5" stroke="#474747" stroke-width="3.0" />
<path d="M683,741.5 L668,737.3 L668,745.7 Z" fill="#474747" stroke="#474747" stroke-width="1.25" />
<path d="M651,687 L683,692 L653,697 L683,701.5 L655,706" fill="none" stroke="#474747" stroke-width="2.5" />
<path d="M641.5,729.4 L611.2,729.4 L611.2,867.5 L664.5,867.5 L664.5,850.6" fill="none" stroke="#474747" stroke-width="2.88" />
<path d="M691.2,729.4 L746.3,729.4 L746.3,993" fill="none" stroke="#474747" stroke-width="2.88" />
<path d="M611.2,774.5 L738,774.5 Q740,774.5 741,771 Q746.3,763 751.5,771 Q752.5,775 756,775 L803.6,775 L803.6,793.3" fill="none" stroke="#474747" stroke-width="2.88" />
<line x1="664.5" y1="754.8" x2="664.5" y2="802" stroke="#474747" stroke-width="2.88" />
<rect x="641.5" y="802" width="49.7" height="48.6" fill="none" stroke="#474747" stroke-width="3.2"/>
<line x1="645" y1="837.3" x2="688" y2="837.3" stroke="#474747" stroke-width="3.0" />
<path d="M683,837.3 L668,833.1 L668,841.5 Z" fill="#474747" stroke="#474747" stroke-width="1.25" />
<path d="M674,789 L688,791.5 L674,794.5 L688,797.5 L675,800.5" fill="none" stroke="#474747" stroke-width="2.25" />
<path d="M603,790 Q611,805 603,819" fill="none" stroke="#666" stroke-width="2.5" />
<path d="M619,790 Q611,805 619,819" fill="none" stroke="#666" stroke-width="2.5" />
<line x1="587" y1="826" x2="641.5" y2="826" stroke="#474747" stroke-width="2.88" />
<line x1="691.2" y1="826" x2="746.3" y2="826" stroke="#474747" stroke-width="2.88" />
<circle cx="611.2" cy="774.5" r="4.8" fill="#444" stroke="#444" stroke-width="0.62"/>
<circle cx="664.5" cy="774.5" r="4.8" fill="#444" stroke="#444" stroke-width="0.62"/>
<circle cx="587" cy="826" r="4.8" fill="#444" stroke="#444" stroke-width="0.62"/>
<circle cx="611.2" cy="826" r="4.8" fill="#444" stroke="#444" stroke-width="0.62"/>
<circle cx="746.3" cy="826" r="4.8" fill="#444" stroke="#444" stroke-width="0.62"/>
<circle cx="746" cy="887" r="4.8" fill="#444" stroke="#444" stroke-width="0.62"/>
<rect x="781.8" y="793.3" width="73.5" height="32.7" fill="none" stroke="#474747" stroke-width="3.2"/>
<line x1="820.6" y1="793.3" x2="820.6" y2="826" stroke="#474747" stroke-width="3.75" />
<line x1="796.4" y1="802" x2="811" y2="802" stroke="#474747" stroke-width="3.0" />
<line x1="796.4" y1="814" x2="811" y2="814" stroke="#474747" stroke-width="3.0" />
<line x1="803.6" y1="793.3" x2="803.6" y2="802" stroke="#474747" stroke-width="2.88" />
<line x1="803.6" y1="814" x2="803.6" y2="826" stroke="#474747" stroke-width="2.88" />
<line x1="838.8" y1="793.3" x2="838.8" y2="826" stroke="#474747" stroke-width="2.5" />
<path d="M838.8,822 L834.8,806.5 L842.8,806.5 Z" fill="#474747" stroke="#474747" stroke-width="1.25" />
<path d="M803.6,826 L803.6,887 L746,887" fill="none" stroke="#474747" stroke-width="2.88" />
<circle cx="584.5" cy="938" r="37.6" fill="none" stroke="#474747" stroke-width="3.75"/>
<path d="M584.5,901.8 L572.4,920 L596.7,920 Z" fill="#444" stroke="#444" stroke-width="1.25" />
<line x1="583" y1="975.8" x2="583" y2="991.5" stroke="#474747" stroke-width="2.88" />
<path d="M543,983 L543,1004 L769.5,1004 L769.5,983" fill="none" stroke="#474747" stroke-width="4.0" />
</g>
<g>
<g transform="translate(144.5,57.2) skewX(-7) scale(0.9,1.05)">
<text x="0" y="0" font-size="27" fill="#646464" text-anchor="middle">7</text>
</g>
<line x1="161" y1="47" x2="199.5" y2="58.5" stroke="#6a6a6a" stroke-width="1.88" />
<g transform="translate(156.5,264.2) skewX(-7) scale(0.9,1.05)">
<text x="0" y="0" font-size="27" fill="#646464" text-anchor="middle">4</text>
</g>
<line x1="174" y1="254" x2="217" y2="276" stroke="#6a6a6a" stroke-width="1.88" />
<g transform="translate(155.5,298.2) skewX(-7) scale(0.9,1.05)">
<text x="0" y="0" font-size="27" fill="#646464" text-anchor="middle">6</text>
</g>
<line x1="175" y1="287" x2="215" y2="304" stroke="#6a6a6a" stroke-width="1.88" />
<g transform="translate(73.7,399.2) skewX(-7) scale(0.9,1.05)">
<text x="0" y="0" font-size="27" fill="#646464" text-anchor="middle">5</text>
</g>
<line x1="88.8" y1="387.7" x2="156" y2="424.5" stroke="#6a6a6a" stroke-width="1.88" />
<g transform="translate(80,503.2) skewX(-7) scale(0.9,1.05)">
<text x="0" y="0" font-size="27" fill="#646464" text-anchor="middle">4</text>
</g>
<line x1="88.8" y1="511" x2="114.8" y2="569.6" stroke="#6a6a6a" stroke-width="1.88" />
<line x1="88.8" y1="511" x2="225" y2="565" stroke="#6a6a6a" stroke-width="1.88" />
<g transform="translate(69.3,637.2) skewX(-7) scale(0.9,1.05)">
<text x="0" y="0" font-size="27" fill="#646464" text-anchor="middle">D</text>
</g>
<line x1="86.7" y1="626.5" x2="211" y2="614" stroke="#6a6a6a" stroke-width="1.88" />
<g transform="translate(67,674.2) skewX(-7) scale(0.9,1.05)">
<text x="0" y="0" font-size="27" fill="#646464" text-anchor="middle">3</text>
</g>
<line x1="84.5" y1="664" x2="260" y2="708" stroke="#6a6a6a" stroke-width="1.88" />
<g transform="translate(63,741.2) skewX(-7) scale(0.9,1.05)">
<text x="0" y="0" font-size="27" fill="#646464" text-anchor="middle">П</text>
</g>
<line x1="82" y1="730" x2="151.6" y2="758" stroke="#6a6a6a" stroke-width="1.88" />
<g transform="translate(66,823.7) skewX(-7) scale(0.9,1.05)">
<text x="0" y="0" font-size="27" fill="#646464" text-anchor="middle">2</text>
</g>
<line x1="82" y1="816" x2="273" y2="847" stroke="#6a6a6a" stroke-width="1.88" />
<g transform="translate(66,870.2) skewX(-7) scale(0.9,1.05)">
<path transform="skewX(-12)" d="M-5.1,-12.8 L1.3,-19.3 L1.3,0" fill="none" stroke="#646464" stroke-width="2.65" stroke-linejoin="miter" stroke-linecap="butt"/>
</g>
<line x1="82" y1="858" x2="136.7" y2="870" stroke="#6a6a6a" stroke-width="1.88" />
<g transform="translate(66,945.8) skewX(-7) scale(0.9,1.05)">
<text x="0" y="0" font-size="27" fill="#646464" text-anchor="middle">4</text>
</g>
<line x1="84" y1="932.6" x2="233.6" y2="965.8" stroke="#6a6a6a" stroke-width="1.88" />
<g transform="translate(430,361.2) skewX(-7) scale(0.9,1.05)">
<text x="0" y="0" font-size="27" fill="#646464" text-anchor="middle">8</text>
</g>
<line x1="417" y1="352.5" x2="317" y2="378.5" stroke="#6a6a6a" stroke-width="1.88" />
<g transform="translate(486,426.7) skewX(-7) scale(0.9,1.05)">
<text x="0" y="0" font-size="27" fill="#646464" text-anchor="middle">9</text>
</g>
<line x1="475.5" y1="419" x2="304" y2="484.6" stroke="#6a6a6a" stroke-width="1.88" />
<g transform="translate(488.5,563.2) skewX(-7) scale(0.9,1.05)">
<text x="0" y="0" font-size="27" fill="#646464" text-anchor="middle">4</text>
</g>
<line x1="475.5" y1="551.8" x2="419" y2="546" stroke="#6a6a6a" stroke-width="1.88" />
<line x1="475.5" y1="551.8" x2="317" y2="599.5" stroke="#6a6a6a" stroke-width="1.88" />
<g transform="translate(492.8,617.2) skewX(-7) scale(0.9,1.05)">
<path transform="skewX(-12)" d="M-12.6,-12.8 L-6.2,-19.3 L-6.2,0" fill="none" stroke="#646464" stroke-width="2.65" stroke-linejoin="miter" stroke-linecap="butt"/>
<text x="-0.8" y="0" font-size="27" fill="#646464" text-anchor="start">0</text>
</g>
<line x1="473" y1="609.4" x2="321.7" y2="655.8" stroke="#6a6a6a" stroke-width="1.88" />
<g transform="translate(490.6,691.2) skewX(-7) scale(0.9,1.05)">
<path transform="skewX(-12)" d="M-11.9,-12.8 L-5.4,-19.3 L-5.4,0" fill="none" stroke="#646464" stroke-width="2.65" stroke-linejoin="miter" stroke-linecap="butt"/>
<path transform="skewX(-12)" d="M1.6,-12.8 L8.1,-19.3 L8.1,0" fill="none" stroke="#646464" stroke-width="2.65" stroke-linejoin="miter" stroke-linecap="butt"/>
</g>
<line x1="473" y1="683" x2="300" y2="736" stroke="#6a6a6a" stroke-width="1.88" />
<g transform="translate(486.6,822.2) skewX(-7) scale(0.9,1.05)">
<text x="0" y="0" font-size="27" fill="#646464" text-anchor="middle">C</text>
</g>
<line x1="474.7" y1="814.5" x2="419" y2="835.7" stroke="#6a6a6a" stroke-width="1.88" />
<g transform="translate(492,912.7) skewX(-7) scale(0.9,1.05)">
<path transform="skewX(-12)" d="M-12.6,-12.8 L-6.2,-19.3 L-6.2,0" fill="none" stroke="#646464" stroke-width="2.65" stroke-linejoin="miter" stroke-linecap="butt"/>
<text x="-0.8" y="0" font-size="27" fill="#646464" text-anchor="start">2</text>
</g>
<line x1="474.5" y1="903" x2="309.7" y2="876.4" stroke="#6a6a6a" stroke-width="1.88" />
<g transform="translate(492,945.8) skewX(-7) scale(0.9,1.05)">
<path transform="skewX(-12)" d="M-12.6,-12.8 L-6.2,-19.3 L-6.2,0" fill="none" stroke="#646464" stroke-width="2.65" stroke-linejoin="miter" stroke-linecap="butt"/>
<text x="-0.8" y="0" font-size="27" fill="#646464" text-anchor="start">3</text>
</g>
<line x1="473" y1="936.6" x2="317" y2="910.3" stroke="#6a6a6a" stroke-width="1.88" />
<g transform="translate(288.8,1042.8) skewX(-7) scale(0.9,1.05)">
<text x="0" y="0" font-size="26" fill="#646464" text-anchor="middle">а</text>
</g>
<g transform="translate(737.6,92.2) skewX(-7) scale(0.9,1.05)">
<text x="0" y="0" font-size="27" fill="#646464" text-anchor="middle">7</text>
</g>
<line x1="729" y1="103.6" x2="708.5" y2="130" stroke="#6a6a6a" stroke-width="1.88" />
<g transform="translate(764,132.2) skewX(-7) scale(0.9,1.05)">
<text x="0" y="0" font-size="27" fill="#646464" text-anchor="middle">8</text>
</g>
<line x1="754.5" y1="129" x2="720.6" y2="159.4" stroke="#6a6a6a" stroke-width="1.88" />
<g transform="translate(640.6,167.2) skewX(-7) scale(0.9,1.05)">
<text x="0" y="0" font-size="27" fill="#646464" text-anchor="middle">9</text>
</g>
<line x1="654" y1="158" x2="686.7" y2="178.8" stroke="#6a6a6a" stroke-width="1.88" />
<g transform="translate(599.4,167.2) skewX(-7) scale(0.9,1.05)">
<text x="0" y="0" font-size="27" fill="#646464" text-anchor="middle">3</text>
</g>
<line x1="611.5" y1="176.4" x2="644" y2="218.8" stroke="#6a6a6a" stroke-width="1.88" />
<g transform="translate(837,132.9) skewX(-7) scale(0.9,1.05)">
<path transform="skewX(-12)" d="M-12.6,-12.8 L-6.2,-19.3 L-6.2,0" fill="none" stroke="#646464" stroke-width="2.65" stroke-linejoin="miter" stroke-linecap="butt"/>
<text x="-0.8" y="0" font-size="27" fill="#646464" text-anchor="start">0</text>
</g>
<line x1="832" y1="142" x2="784.3" y2="216.7" stroke="#6a6a6a" stroke-width="1.88" />
<g transform="translate(575,257.2) skewX(-7) scale(0.9,1.05)">
<text x="0" y="0" font-size="27" fill="#646464" text-anchor="middle">П</text>
</g>
<line x1="574" y1="268" x2="615" y2="327" stroke="#6a6a6a" stroke-width="1.88" />
<g transform="translate(671,273.6) skewX(-7) scale(0.9,1.05)">
<text x="0" y="0" font-size="28" fill="#646464" text-anchor="middle">d</text>
</g>
<g transform="translate(877,266.9) skewX(-7) scale(0.9,1.05)">
<text x="0" y="0" font-size="22" fill="#646464" text-anchor="middle">D</text>
</g>
<line x1="877" y1="246" x2="870" y2="229" stroke="#6a6a6a" stroke-width="1.88" />
<g transform="translate(988,201.2) skewX(-7) scale(0.9,1.05)">
<path transform="skewX(-12)" d="M-12.6,-12.8 L-6.2,-19.3 L-6.2,0" fill="none" stroke="#646464" stroke-width="2.65" stroke-linejoin="miter" stroke-linecap="butt"/>
<text x="-0.8" y="0" font-size="27" fill="#646464" text-anchor="start">4</text>
</g>
<line x1="971.6" y1="191" x2="930" y2="215.5" stroke="#6a6a6a" stroke-width="1.88" />
<g transform="translate(888.5,309.8) skewX(-7) scale(0.9,1.05)">
<path transform="skewX(-12)" d="M-11.9,-12.8 L-5.4,-19.3 L-5.4,0" fill="none" stroke="#646464" stroke-width="2.65" stroke-linejoin="miter" stroke-linecap="butt"/>
<path transform="skewX(-12)" d="M1.6,-12.8 L8.1,-19.3 L8.1,0" fill="none" stroke="#646464" stroke-width="2.65" stroke-linejoin="miter" stroke-linecap="butt"/>
</g>
<line x1="870" y1="301" x2="700" y2="346" stroke="#6a6a6a" stroke-width="1.88" />
<g transform="translate(803.6,418.9) skewX(-7) scale(0.9,1.05)">
<path transform="skewX(-12)" d="M-12.6,-12.8 L-6.2,-19.3 L-6.2,0" fill="none" stroke="#646464" stroke-width="2.65" stroke-linejoin="miter" stroke-linecap="butt"/>
<text x="-0.8" y="0" font-size="27" fill="#646464" text-anchor="start">2</text>
</g>
<line x1="781.8" y1="411" x2="695.7" y2="429" stroke="#6a6a6a" stroke-width="1.88" />
<g transform="translate(812,487.1) skewX(-7) scale(0.9,1.05)">
<text x="0" y="0" font-size="24" fill="#646464" text-anchor="middle">C</text>
</g>
<line x1="799" y1="479" x2="758.8" y2="472.7" stroke="#6a6a6a" stroke-width="1.88" />
<g transform="translate(585.9,515.9) skewX(-7) scale(0.9,1.05)">
<text x="0" y="0" font-size="27" fill="#646464" text-anchor="middle">2</text>
</g>
<line x1="600" y1="505" x2="660" y2="521" stroke="#6a6a6a" stroke-width="1.88" />
<g transform="translate(799,541.7) skewX(-7) scale(0.9,1.05)">
<path transform="skewX(-12)" d="M-12.6,-12.8 L-6.2,-19.3 L-6.2,0" fill="none" stroke="#646464" stroke-width="2.65" stroke-linejoin="miter" stroke-linecap="butt"/>
<text x="-0.8" y="0" font-size="27" fill="#646464" text-anchor="start">3</text>
</g>
<line x1="780" y1="533.5" x2="731" y2="543.8" stroke="#6a6a6a" stroke-width="1.88" />
<g transform="translate(724.8,608.1) skewX(-7) scale(0.9,1.05)">
<text x="0" y="0" font-size="24" fill="#646464" text-anchor="middle">б</text>
</g>
<text x="696" y="699" font-size="25" fill="#646464" text-anchor="start" >P</text>
<text x="710" y="704" font-size="16" fill="#646464" text-anchor="start" >к</text>
<text x="553" y="890" font-size="25" fill="#646464" text-anchor="start" >P</text>
<text x="567" y="896" font-size="16" fill="#646464" text-anchor="start" >н</text>
<g transform="translate(657.3,1038.5) skewX(-7) scale(0.9,1.05)">
<text x="0" y="0" font-size="25" fill="#646464" text-anchor="middle">в</text>
</g>
</g>
</g>
</svg>
</body></html>
